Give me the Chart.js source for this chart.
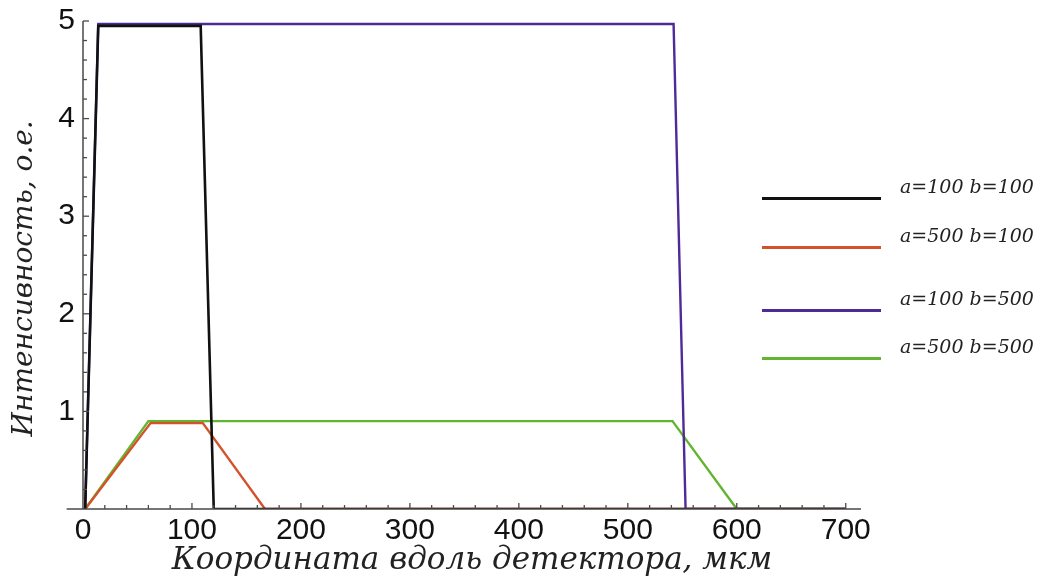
<!DOCTYPE html>
<html lang="ru">
<head>
<meta charset="utf-8">
<title>Интенсивность вдоль детектора</title>
<script src="https://cdn.jsdelivr.net/npm/chart.js@4/dist/chart.umd.min.js"></script>
<style>
  body { margin: 0; background: #fff; }
  #wrap { position: relative; width: 1043px; height: 583px; }
  #legend { position: absolute; left: 0; top: 0; }
  .item { position: absolute; left: 762px; height: 30px; }
  .item .swatch { position: absolute; left: 0; width: 119px; height: 3px; }
  .item .text {
    position: absolute; left: 138px; white-space: nowrap;
    font: italic 19px "DejaVu Serif", serif; color: #222;
  }
</style>
</head>
<body>
<div id="wrap">
  <canvas id="myChart" width="1043" height="583"></canvas>
  <div id="legend"></div>
</div>
<script>
// series labels
const seriesLabels = ["a=100 b=100", "a=500 b=100", "a=100 b=500", "a=500 b=500"];

// a=100 b=100
const blackX = [2, 14, 108, 120, 700];
const blackY = [0, 4.95, 4.95, 0, 0];
// a=500 b=100
const redX = [2, 62, 110, 167, 700];
const redY = [0, 0.88, 0.88, 0, 0];
// a=100 b=500
const purpleX = [2, 14, 542, 553, 700];
const purpleY = [0, 4.97, 4.97, 0, 0];
// a=500 b=500
const greenX = [2, 60, 541, 600, 700];
const greenY = [0, 0.9, 0.9, 0, 0];

const colors = ["#111111", "#d4522b", "#4e2a96", "#62b52f"];
const legendTops = [184, 233, 296, 344]; // px, line positions in the legend column

function points(xs, ys) {
  return xs.map((x, i) => ({ x: x, y: ys[i] }));
}

const seriesData = [
  points(blackX, blackY),
  points(redX, redY),
  points(purpleX, purpleY),
  points(greenX, greenY),
];

// Mathematica-like axes: x axis runs a bit left of 0, short inward ticks
const axesPlugin = {
  id: "axesPlugin",
  afterDatasetsDraw(chart) {
    const ctx = chart.ctx;
    const xs = chart.scales.x;
    const ys = chart.scales.y;
    const x0 = xs.getPixelForValue(0);
    ctx.save();
    ctx.strokeStyle = "#4a4a4a";
    ctx.lineWidth = 1.5;
    ctx.beginPath();
    ctx.moveTo(xs.getPixelForValue(-15), ys.bottom);
    ctx.lineTo(xs.right, ys.bottom);
    ctx.moveTo(x0, ys.bottom);
    ctx.lineTo(x0, ys.top);
    ctx.stroke();

    ctx.lineWidth = 1.3;
    xs.ticks.forEach((t) => {
      const v = Math.round(t.value);
      if (v <= 0 || v > 700 || v % 20 !== 0) return;
      const len = v % 100 === 0 ? 6 : 4;
      const px = xs.getPixelForValue(v);
      ctx.beginPath();
      ctx.moveTo(px, ys.bottom);
      ctx.lineTo(px, ys.bottom - len);
      ctx.stroke();
    });
    ys.ticks.forEach((t) => {
      if (t.value <= 0) return;
      const major = Math.abs(t.value - Math.round(t.value)) < 1e-6;
      const py = ys.getPixelForValue(t.value);
      ctx.beginPath();
      ctx.moveTo(x0, py);
      ctx.lineTo(x0 + (major ? 6 : 4), py);
      ctx.stroke();
    });
    ctx.restore();
  },
};

const config = {
  type: "line",
  data: {
    datasets: seriesData.map((d, i) => ({
      label: seriesLabels[i],
      data: d,
      borderColor: colors[i],
      borderWidth: i === 0 ? 2.6 : 2.4,
      pointRadius: 0,
      tension: 0,
      fill: false,
    })),
  },
  options: {
    responsive: false,
    animation: false,
    layout: { padding: { top: 21, right: 182, left: 0, bottom: 0 } },
    plugins: {
      legend: { display: false },
      tooltip: { enabled: false },
    },
    scales: {
      x: {
        type: "linear",
        min: 0,
        max: 714,
        grid: { display: false, drawTicks: false },
        border: { display: false },
        ticks: {
          stepSize: 20,
          includeBounds: false,
          autoSkip: false,
          maxRotation: 0,
          padding: 4,
          color: "#111",
          font: { family: "'Liberation Sans', Arial, sans-serif", size: 30 },
          callback: (v) => (v >= 0 && v <= 700 && v % 100 === 0 ? String(v) : ""),
        },
        title: {
          display: true,
          text: "Координата вдоль детектора, мкм",
          color: "#222",
          padding: { top: 0, bottom: 3 },
          font: { family: "'DejaVu Serif', serif", style: "italic", size: 31 },
        },
        afterFit: (s) => { s.height = 74; },
      },
      y: {
        type: "linear",
        min: 0,
        max: 5,
        grid: { display: false, drawTicks: false },
        border: { display: false },
        ticks: {
          stepSize: 0.2,
          autoSkip: false,
          padding: 8,
          color: "#111",
          font: { family: "'Liberation Sans', Arial, sans-serif", size: 30, lineHeight: 0.8 },
          callback: (v) =>
            v > 0 && Math.abs(v - Math.round(v)) < 1e-6 ? String(Math.round(v)) : "",
        },
        title: {
          display: true,
          text: "Интенсивность, о.е.   ",
          color: "#222",
          padding: { top: 8, bottom: 0 },
          font: { family: "'DejaVu Serif', serif", style: "italic", size: 28 },
        },
        afterFit: (s) => { s.width = 83; },
      },
    },
  },
  plugins: [axesPlugin],
};

const myChart = new Chart(document.getElementById("myChart"), config);

// legend on the right
const legend = document.getElementById("legend");
seriesLabels.forEach((label, i) => {
  const item = document.createElement("div");
  item.className = "item";
  item.style.top = legendTops[i] + "px";
  item.innerHTML =
    '<div class="swatch" style="top:13px;background:' + colors[i] + '"></div>' +
    '<div class="text" style="top:-9px">' + label + "</div>";
  legend.appendChild(item);
});
</script>
</body>
</html>
